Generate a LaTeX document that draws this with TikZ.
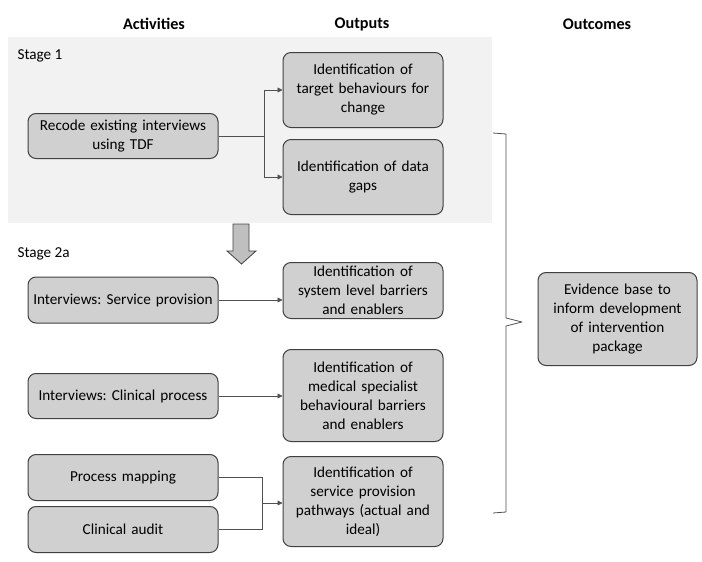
\documentclass[tikz,border=0pt]{standalone}
\usepackage{fontspec}
\setmainfont{Carlito}
\frenchspacing
\usetikzlibrary{arrows.meta}
\definecolor{boxfill}{HTML}{D0D0D0}
\definecolor{boxline}{HTML}{404040}
\definecolor{stagebg}{HTML}{F2F2F2}
\definecolor{linkcol}{HTML}{505050}
\definecolor{bigarrow}{HTML}{BFBFBF}
\begin{document}
\begin{tikzpicture}[x=1pt,y=-1pt,
  txt/.style={font=\fontsize{15.2}{19}\selectfont},
  box/.style={txt, draw=boxline, fill=boxfill, line width=1pt,
    rounded corners=8pt, align=center, inner sep=0pt},
  actbox/.style={box, minimum width=190pt, text width=182pt},
  outbox/.style={box, minimum width=160pt, text width=152pt},
  header/.style={font=\fontsize{16.2}{19}\selectfont\bfseries},
  link/.style={draw=linkcol, line width=0.8pt},
  arr/.style={link, -{Triangle[length=5pt,width=5pt]}}]
\useasboundingbox (0,0) rectangle (702,562);

% column headings
\node[header] (hact) at (154,24) {Activities};
\node[header] (hout) at (362,24) {Outputs};
\node[header] (hocm) at (597,24) {Outcomes};

% stage 1 panel
\fill[stagebg] (8,37) rectangle (492,223);
\node[txt, anchor=west] (s1) at (14,56) {Stage 1};

\node[actbox, minimum height=45pt] (recode) at (123,136)
  {Recode existing interviews\\using TDF};
\node[outbox, minimum height=75pt] (target) at (363,90)
  {Identification of\\target behaviours for\\change};
\node[outbox, minimum height=75pt] (gaps) at (363,177)
  {Identification of data\\gaps};

\draw[arr] (recode.east) -- ++(46,0) |- (target.west);
\draw[arr] (recode.east) -- ++(46,0) |- (gaps.west);

% block arrow between stages
\draw[boxline, fill=bigarrow, line width=0.8pt, line join=miter]
  (233,224) -- (249,224) -- (249,251) -- (256,251) -- (241.5,264)
  -- (227,251) -- (233,251) -- cycle;

% stage 2a
\node[txt, anchor=west] (s2) at (14,254) {Stage 2a};

\node[actbox, minimum height=46pt] (service) at (123,300)
  {Interviews: Service provision};
\node[outbox, minimum height=56pt] (system) at (363,290.5)
  {Identification of\\system level barriers\\and enablers};
\draw[arr] (service.east) -- (service.east -| system.west);

\node[actbox, minimum height=45pt] (clinical) at (123,396)
  {Interviews: Clinical process};
\node[outbox, minimum height=92pt] (medical) at (363,395.5)
  {Identification of\\medical specialist\\behavioural barriers\\and enablers};
\draw[arr] (clinical.east) -- (clinical.east -| medical.west);

\node[actbox, minimum height=46pt] (process) at (123,477.5)
  {Process mapping};
\node[actbox, minimum height=46pt] (audit) at (123,529.5)
  {Clinical audit};
\node[outbox, minimum height=90pt] (pathways) at (363,501.5)
  {Identification of\\service provision\\pathways (actual and\\ideal)};
\draw[link] (process.east) -- ++(44,0) |- (audit.east);
\coordinate (join) at (262,503);
\draw[arr] (join) -- (join -| pathways.west);

% brace gathering the outputs
\draw[link, line join=round]
  (493,133) -- (506,134) -- (506,318) -- (522,322) -- (506,326)
  -- (506,512) -- (493,513);

% outcome
\node[box, minimum width=159pt, text width=150pt, minimum height=93pt]
  (evidence) at (617.5,319)
  {Evidence base to\\inform development\\of intervention\\package};
\end{tikzpicture}
\end{document}
